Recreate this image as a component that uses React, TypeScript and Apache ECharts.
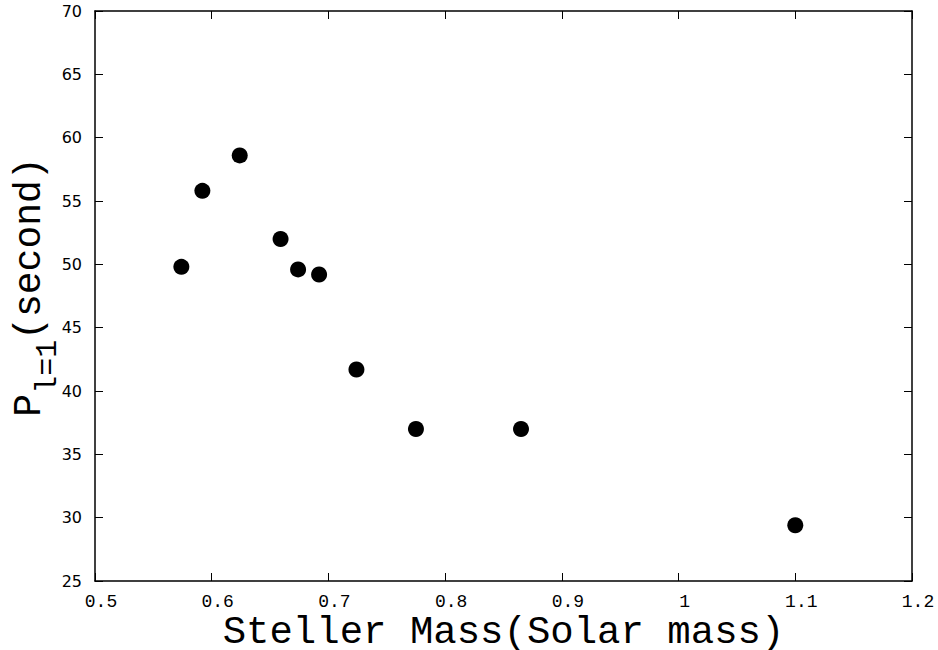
import React, { useEffect, useRef } from "react";
import * as echarts from "echarts";

const stellarMass = [0.574, 0.592, 0.624, 0.659, 0.674, 0.692, 0.724, 0.775, 0.865, 1.1];
const periodSeconds = [49.8, 55.8, 58.6, 52.0, 49.6, 49.2, 41.7, 37.0, 37.0, 29.4];
const xTitle = "Steller Mass(Solar mass)";
const yTitleMain = "P";
const yTitleSub = "l=1";
const yTitleTail = "(second)";

export default function App() {
  const ref = useRef<HTMLDivElement>(null);
  useEffect(() => {
    if (!ref.current) return;
    const chart = echarts.init(ref.current, null, { renderer: "svg" });
    const data = stellarMass.map((x, i) => [x, periodSeconds[i]]);
    const axisLine = { show: true, lineStyle: { color: "#000", width: 1.5 } };
    const tick = { show: true, inside: true, length: 8, lineStyle: { color: "#000", width: 1 } };
    const fmtX = (v: number) => String(+v.toFixed(2));
    chart.setOption({
      animation: false,
      backgroundColor: "#fff",
      grid: { left: 95, right: 26, top: 11, bottom: 69, containLabel: false, outerBoundsMode: "none" },
      xAxis: [
        {
          type: "value",
          min: 0.5,
          max: 1.2,
          interval: 0.1,
          position: "bottom",
          axisLine,
          axisTick: tick,
          splitLine: { show: false },
          axisLabel: {
            formatter: fmtX,
            fontFamily: "Liberation Mono",
            fontSize: 18,
            color: "#000",
            margin: 12,
            padding: [0, 0, 0, 12],
          },
          name: xTitle,
          nameLocation: "middle",
          nameGap: 32,
          nameMoveOverlap: false,
          nameTextStyle: { fontFamily: "Liberation Mono", fontSize: 39, color: "#000" },
        },
        {
          type: "value",
          min: 0.5,
          max: 1.2,
          interval: 0.1,
          position: "top",
          axisLine,
          axisTick: tick,
          splitLine: { show: false },
          axisLabel: { show: false },
        },
      ],
      yAxis: [
        {
          type: "value",
          min: 25,
          max: 70,
          interval: 5,
          position: "left",
          axisLine,
          axisTick: tick,
          splitLine: { show: false },
          axisLabel: {
            fontFamily: "DejaVu Sans",
            fontSize: 16,
            color: "#000",
            margin: 13,
          },
          name: `{a|${yTitleMain}}{b|${yTitleSub}}{a|${yTitleTail}}`,
          nameLocation: "middle",
          nameGap: 41,
          nameRotate: 90,
          nameMoveOverlap: false,
          nameTextStyle: {
            color: "#000",
            padding: [0, 0, 0, 18],
            rich: {
              a: { fontFamily: "Liberation Mono", fontSize: 38, lineHeight: 44, verticalAlign: "top", color: "#000" },
              b: {
                fontFamily: "Liberation Mono",
                fontSize: 30,
                lineHeight: 28,
                padding: [23, 0, 0, 0],
                verticalAlign: "top",
                color: "#000",
              },
            },
          },
        },
        {
          type: "value",
          min: 25,
          max: 70,
          interval: 5,
          position: "right",
          axisLine,
          axisTick: tick,
          splitLine: { show: false },
          axisLabel: { show: false },
        },
      ],
      series: [
        {
          type: "scatter",
          data,
          symbol: "circle",
          symbolSize: 16,
          itemStyle: { color: "#000", opacity: 1 },
        },
      ],
    });
    return () => chart.dispose();
  }, []);
  return <div ref={ref} style={{ position: "fixed", left: 0, top: 0, width: 938, height: 650 }} />;
}
